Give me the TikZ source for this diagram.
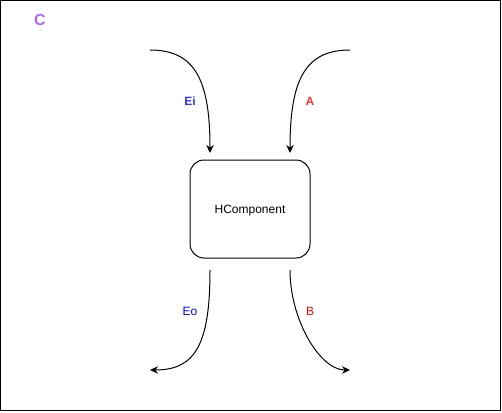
\documentclass[tikz,border=0pt]{standalone}
\usepackage{fontspec}
\setmainfont{Liberation Sans}
\usetikzlibrary{arrows.meta}
\definecolor{lblue}{HTML}{3333FF}
\definecolor{lred}{HTML}{FF3333}
\definecolor{lpurple}{HTML}{B266FF}
\tikzset{
  conn/.style={line width=1pt,-{Stealth[length=8pt,width=7.5pt]}},
  comp/.style={draw,line width=1pt,rounded corners=14pt,minimum width=120pt,minimum height=98pt},
  lbl/.style={font=\fontsize{12}{14}\selectfont},
}
\begin{document}
\begin{tikzpicture}[x=1pt,y=-1pt]
\useasboundingbox (0,0) rectangle (502,412);
\draw[line width=1pt] (0.5,0.5) rectangle (500.5,410.5);
\node[font=\bfseries\fontsize{16}{18}\selectfont,text=lpurple] (c) at (40,20) {C};
\node[comp] (h) at (250,209) {};
\node[lbl] (ht) at (250,211) {HComponent};
\coordinate (s1) at (150,50);
\coordinate (s2) at (350,50);
\coordinate (e1) at (210,153);
\coordinate (e2) at (290,153);
\coordinate (o1) at (210,270);
\coordinate (o2) at (290,270);
\coordinate (t1) at (150,370);
\coordinate (t2) at (350,370);
\draw[conn] (s1) .. controls (195,50) and (210,80) .. (e1);
\draw[conn] (s2) .. controls (305,50) and (290,80) .. (e2);
\draw[conn] (o1) .. controls (210,345) and (195,370) .. (t1);
\draw[conn] (o2) .. controls (290,320) and (320,370) .. (t2);
\node[lbl,font=\bfseries\fontsize{12}{14}\selectfont,text=lblue] (ei) at (190,101) {Ei};
\node[lbl,font=\bfseries\fontsize{12}{14}\selectfont,text=lred] (a) at (310,101) {A};
\node[lbl,text=blue] (eo) at (190,311) {Eo};
\node[lbl,text=red] (b) at (310,311) {B};
\end{tikzpicture}
\end{document}
